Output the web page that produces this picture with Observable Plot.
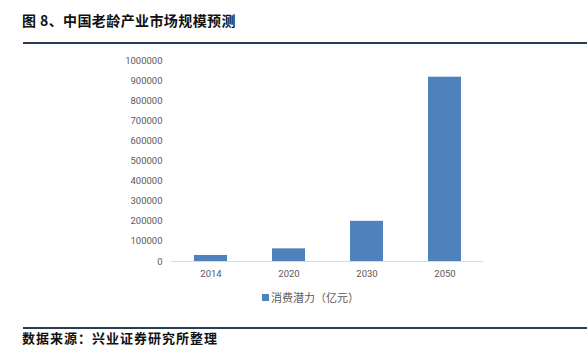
<!DOCTYPE html>
<html>
<head>
<meta charset="utf-8">
<script src="https://cdn.jsdelivr.net/npm/d3@7"></script>
<script src="https://cdn.jsdelivr.net/npm/@observablehq/plot@0.6"></script>
<style>
  body { margin: 0; background: #fff; width: 587px; height: 355px; position: relative; overflow: hidden; font-family: "Noto Sans CJK SC", "Noto Sans", sans-serif; }
  .abs { position: absolute; }
  #title { left: 22px; top: 10px; font-size: 14px; font-weight: bold; color: #111; letter-spacing: 0.4px; font-family: "Noto Sans CJK SC", serif; }
  #topline { left: 23px; top: 42px; width: 564px; height: 2px; background: #253d57; }
  #bottomline { left: 23px; top: 327px; width: 564px; height: 2px; background: #253d57; }
  #caption { left: 22px; top: 328px; font-size: 13px; font-weight: bold; color: #111; letter-spacing: 1px; font-family: "Noto Sans CJK SC", serif; }
  #legend { left: 262px; top: 289px; font-size: 11px; color: #595959; display: flex; align-items: center; }
  #legend .sw { width: 7px; height: 7px; background: #4f81bd; margin-right: 2px; }
  #chart { left: 0; top: 0; }
</style>
</head>
<body>
<div id="chart" class="abs"></div>
<div id="title" class="abs">图 8、中国老龄产业市场规模预测</div>
<div id="topline" class="abs"></div>
<div id="legend" class="abs"><span class="sw"></span><span id="legendText"></span></div>
<div id="bottomline" class="abs"></div>
<div id="caption" class="abs">数据来源：兴业证券研究所整理</div>
<script>
const years = ["2014", "2020", "2030", "2050"];
const values = [30000, 63000, 200000, 917000];
const yTicks = [0, 100000, 200000, 300000, 400000, 500000, 600000, 700000, 800000, 900000, 1000000];
const seriesName = "消费潜力（亿元）";

document.getElementById("legendText").textContent = seriesName;
const data = years.map((y, i) => ({year: y, value: values[i]}));

const chart = Plot.plot({
  width: 587,
  height: 285,
  marginLeft: 171,
  marginRight: 104,
  marginTop: 60,
  marginBottom: 24,
  style: { fontSize: "9.5px", color: "#595959", fontFamily: "Roboto, 'Noto Sans', sans-serif", background: "transparent" },
  x: { domain: years, paddingInner: 0.58, paddingOuter: 0.29, label: null, tickSize: 0, tickPadding: 9 },
  y: { domain: [0, 1000000], ticks: yTicks, tickFormat: d => String(d), label: null, tickSize: 0, tickPadding: 9 },
  marks: [
    Plot.barY(data, { x: "year", y: "value", fill: "#4f81bd" }),
    Plot.ruleY([0], { stroke: "#d9d9d9" })
  ]
});
document.getElementById("chart").appendChild(chart);
</script>
</body>
</html>
